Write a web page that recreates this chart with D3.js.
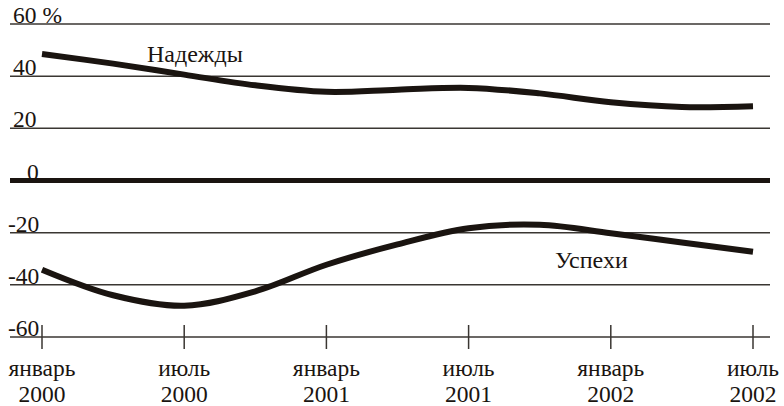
<!DOCTYPE html>
<html>
<head>
<meta charset="utf-8">
<script src="https://cdn.jsdelivr.net/npm/d3@7"></script>
<style>
  html, body { margin: 0; padding: 0; background: #fff; }
</style>
</head>
<body>
<svg id="chart" width="784" height="406"></svg>
<script>
// Data: months since January 2000 (quarterly readings)
const months = [0, 3, 6, 9, 12, 15, 18, 21, 24, 27, 30];
const hopes =    [48.5, 44.8, 40.6, 36.5, 34.0, 34.8, 35.5, 33.4, 30.0, 28.2, 28.5];
const successes = [-34.2, -44.0, -48.0, -42.5, -32.3, -24.5, -18.3, -17.0, -20.2, -23.8, -27.3];
const yTicks = [60, 40, 20, 0, -20, -40, -60];
const yTickLabels = ["60 %", "40", "20", "0", "-20", "-40", "-60"];
const xTickMonths = [0, 6, 12, 18, 24, 30];
const xTickLabels = [["январь", "2000"], ["июль", "2000"], ["январь", "2001"], ["июль", "2001"], ["январь", "2002"], ["июль", "2002"]];
const seriesNames = ["Надежды", "Успехи"];

const FONT = "'Liberation Serif', 'DejaVu Serif', 'Times New Roman', serif";
const svg = d3.select("#chart");
const x = d3.scaleLinear().domain([0, 30]).range([42, 753]);
const y = d3.scaleLinear().domain([-60, 60]).range([337, 24]);
const gridLeft = 10, gridRight = 770;
const ink = "#1a1410";
const gridInk = "#3a3632";

// horizontal gridlines
svg.append("g").selectAll("line").data(yTicks).join("line")
  .attr("x1", gridLeft).attr("x2", gridRight)
  .attr("y1", d => y(d)).attr("y2", d => y(d))
  .attr("stroke", d => d === 0 ? ink : gridInk)
  .attr("stroke-width", d => d === 0 ? 5 : 1.5);

// y labels
svg.append("g").selectAll("text").data(yTicks).join("text")
  .attr("x", d => d === 0 ? 27 : (d < 0 ? 8 : 13))
  .attr("y", d => y(d) - 1)
  .attr("font-family", FONT).attr("font-size", 23.5).attr("fill", ink)
  .text((d, i) => yTickLabels[i]);

// x ticks
svg.append("g").selectAll("line").data(xTickMonths).join("line")
  .attr("x1", d => x(d)).attr("x2", d => x(d))
  .attr("y1", y(-60) - 12).attr("y2", y(-60) + 12)
  .attr("stroke", gridInk).attr("stroke-width", 1.5);

// x labels
const xl = svg.append("g").selectAll("text").data(xTickMonths).join("text")
  .attr("text-anchor", "middle")
  .attr("font-family", FONT).attr("font-size", 23.5).attr("fill", ink);
xl.append("tspan").attr("x", d => x(d)).attr("y", 376).text((d, i) => xTickLabels[i][0]);
xl.append("tspan").attr("x", d => x(d)).attr("y", 402).text((d, i) => xTickLabels[i][1]);

// series lines
const line = d3.line().x(d => x(d[0])).y(d => y(d[1])).curve(d3.curveCatmullRom.alpha(0.5));
[hopes, successes].forEach(vals => {
  svg.append("path")
    .datum(months.map((m, i) => [m, vals[i]]))
    .attr("d", line)
    .attr("fill", "none")
    .attr("stroke", ink)
    .attr("stroke-width", 6)
    .attr("stroke-linecap", "butt");
});

// series labels
svg.append("text").attr("x", 147).attr("y", 62)
  .attr("font-family", FONT).attr("font-size", 24).attr("fill", ink).text(seriesNames[0]);
svg.append("text").attr("x", 555).attr("y", 268)
  .attr("font-family", FONT).attr("font-size", 24).attr("fill", ink).text(seriesNames[1]);
</script>
</body>
</html>
